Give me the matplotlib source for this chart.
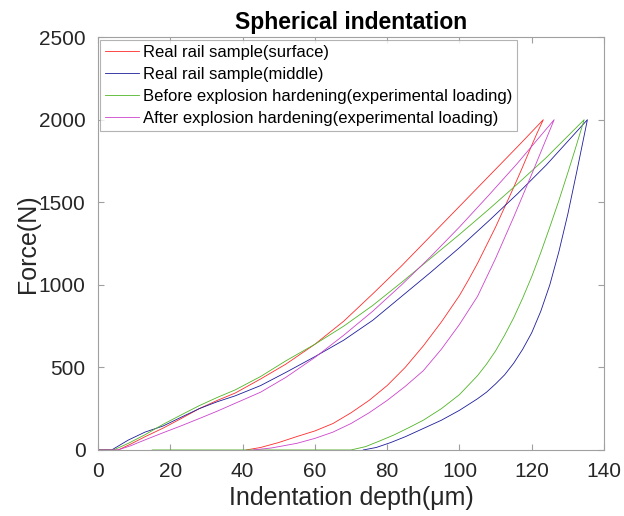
import matplotlib
matplotlib.use("Agg")
import matplotlib.pyplot as plt

# loading (x, y) and unloading (x, y) for each sample
red_load_x = [0, 5.6, 9, 13, 18, 23, 28, 33, 38, 45, 52, 60, 68, 76, 84, 92, 100, 108, 116, 123.2]
red_load_y = [0, 0, 35, 80, 132, 190, 250, 300, 345, 430, 520, 640, 780, 945, 1115, 1295, 1475, 1655, 1835, 2000]
red_unload_x = [123.2, 121.5, 120, 117.5, 115, 112.5, 110, 107.5, 105, 102.5, 100, 97.5, 95, 90, 85,
                80, 75, 70, 65, 60, 55, 50, 45, 41]
red_unload_y = [2000, 1920, 1845, 1715, 1590, 1470, 1350, 1240, 1130, 1030, 935, 855, 775, 630, 500,
                390, 300, 225, 160, 115, 81, 45, 15, 0]

blue_load_x = [0, 3.8, 8.4, 13, 18, 23, 28, 33, 38, 45, 52, 60, 68, 76, 84, 92, 100, 108, 116, 124, 135.4]
blue_load_y = [0, 0, 60, 108, 145, 198, 250, 292, 328, 390, 470, 565, 665, 785, 930, 1075, 1225, 1385, 1550, 1725, 2000]
blue_unload_x = [135.4, 134, 132.5, 130, 127.5, 125, 122.5, 120, 117.5, 115, 112.5, 110, 107.5, 105,
                 100, 95, 90, 85, 81, 77, 73.4]
blue_unload_y = [2000, 1850, 1690, 1430, 1200, 1000, 840, 710, 610, 525, 455, 400, 350, 310,
                 240, 180, 130, 80, 45, 15, 0]

green_load_x = [0, 4.3, 8.4, 13, 18, 23, 28, 33, 38, 45, 52, 60, 68, 76, 84, 92, 100, 108, 116, 124, 134.5]
green_load_y = [0, 0, 40, 92, 155, 212, 268, 318, 364, 445, 540, 640, 750, 875, 1015, 1160, 1305, 1455, 1610, 1770, 2000]
green_unload_x = [134.5, 132, 130, 127.5, 125, 122.5, 120, 117.5, 115, 112.5, 110, 107.5, 105,
                  100, 95, 90, 86, 82, 78, 74, 70, 15]
green_unload_y = [2000, 1820, 1680, 1510, 1350, 1195, 1050, 920, 800, 695, 600, 520, 450,
                  335, 250, 180, 135, 92, 55, 20, 0, 0]

mag_load_x = [0, 5.5, 9, 13, 18, 23, 28, 33, 38, 45, 52, 60, 68, 76, 84, 92, 100, 108, 116, 126.2]
mag_load_y = [0, 0, 25, 61, 104, 146, 190, 235, 283, 350, 440, 560, 695, 840, 1000, 1170, 1350, 1540, 1735, 2000]
mag_unload_x = [126.2, 123, 120, 117.5, 115, 112.5, 110, 107.5, 105, 102.5, 100, 97.5, 95, 90, 85,
                80, 75, 70, 65, 60, 55, 48, 43]
mag_unload_y = [2000, 1830, 1670, 1540, 1410, 1285, 1160, 1045, 930, 845, 760, 685, 610, 480, 385,
                300, 225, 160, 108, 70, 40, 12, 0]

labels = [
    "Real rail sample(surface)",
    "Real rail sample(middle)",
    "Before explosion hardening(experimental loading)",
    "After explosion hardening(experimental loading)",
]
colors = ["#ff2a2a", "#1c1c9c", "#4fb526", "#cc44cc"]

plt.rcParams["font.family"] = ["Liberation Sans", "DejaVu Sans"]

fig = plt.figure(figsize=(6.24, 5.16), dpi=100)
ax = fig.add_axes([0.157, 0.128, 0.811, 0.8])

series = [
    (red_load_x + red_unload_x, red_load_y + red_unload_y),
    (blue_load_x + blue_unload_x, blue_load_y + blue_unload_y),
    (green_load_x + green_unload_x, green_load_y + green_unload_y),
    (mag_load_x + mag_unload_x, mag_load_y + mag_unload_y),
]
for (xs, ys), c, lab in zip(series, colors, labels):
    ax.plot(xs, ys, color=c, linewidth=0.6, label=lab)

ax.set_xlim(0, 140)
ax.set_ylim(0, 2500)
ax.set_xticks(range(0, 141, 20))
ax.set_yticks(range(0, 2501, 500))

for s in ax.spines.values():
    s.set_color("#a0a0a0")
    s.set_linewidth(0.8)
ax.tick_params(direction="in", length=4, width=0.8, color="#a0a0a0",
               labelcolor="#262626", labelsize=15, top=True, right=True, pad=9)

ax.set_title("Spherical indentation", fontsize=16.5, fontweight="bold", pad=6)
ax.set_xlabel("Indentation depth(\u03bcm)", fontsize=18, color="#262626", labelpad=3)
ax.set_ylabel("Force(N)", fontsize=18, color="#262626", labelpad=-1)

leg = ax.legend(loc="upper left", fontsize=12, frameon=True, fancybox=False,
                handlelength=2.0, handletextpad=0.25, borderpad=0.3,
                labelspacing=0.43, borderaxespad=0.15)
leg.get_frame().set_edgecolor("#a0a0a0")
leg.get_frame().set_linewidth(0.8)

fig.savefig("out.png", dpi=100)
